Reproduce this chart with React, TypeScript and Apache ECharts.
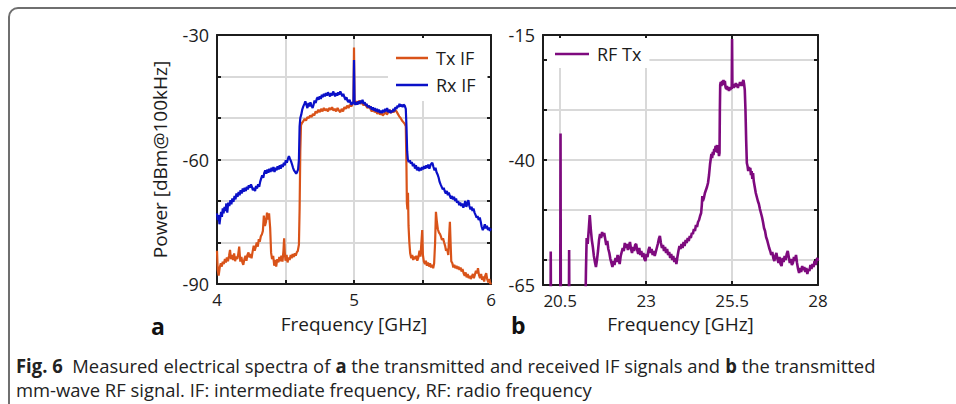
import React, { useEffect, useRef } from 'react';
import * as echarts from 'echarts';

// ---------- data (frequency in GHz, power in dBm@100kHz) ----------
const txIF: number[][] = [
  [4.000,-82.0],[4.005,-86.5],[4.012,-88.0],[4.020,-86.0],[4.028,-85.0],[4.035,-85.8],[4.042,-84.6],[4.050,-85.2],[4.058,-84.0],[4.065,-84.8],
  [4.072,-83.6],[4.080,-84.5],[4.088,-83.2],[4.095,-81.8],[4.102,-84.0],[4.110,-83.0],[4.118,-84.2],[4.125,-82.6],[4.132,-84.5],[4.140,-83.4],
  [4.148,-84.0],[4.155,-82.8],[4.162,-81.0],[4.170,-84.6],[4.178,-83.5],[4.185,-84.8],[4.192,-85.4],[4.200,-84.0],[4.208,-83.2],[4.215,-84.4],
  [4.222,-83.0],[4.230,-82.4],[4.238,-83.6],[4.245,-82.8],[4.252,-83.8],[4.260,-82.2],[4.268,-80.8],[4.275,-82.0],[4.282,-81.2],[4.290,-80.0],
  [4.298,-81.0],[4.305,-79.2],[4.312,-79.8],[4.320,-78.5],[4.328,-78.0],[4.335,-77.2],[4.342,-73.5],[4.350,-76.0],[4.358,-75.0],[4.365,-72.8],
  [4.372,-74.5],[4.380,-73.0],[4.388,-76.5],[4.395,-82.5],[4.402,-84.0],[4.410,-83.2],[4.418,-85.6],[4.425,-84.2],[4.432,-85.8],[4.440,-84.0],
  [4.448,-84.8],[4.455,-83.5],[4.462,-84.5],[4.470,-83.2],[4.478,-84.6],[4.485,-82.0],[4.490,-79.0],[4.495,-82.5],[4.500,-84.4],[4.508,-83.0],
  [4.515,-84.8],[4.522,-83.6],[4.530,-84.2],[4.538,-83.0],[4.545,-83.8],[4.552,-82.8],[4.560,-83.5],[4.568,-82.6],[4.575,-83.2],[4.582,-82.4],
  [4.590,-82.0],[4.598,-80.5],[4.603,-72.0],[4.608,-58.0],[4.613,-51.8],[4.620,-51.2],[4.630,-50.8],[4.640,-50.2],[4.650,-50.6],[4.660,-49.8],
  [4.670,-50.0],[4.680,-49.4],[4.690,-49.8],[4.700,-49.0],[4.710,-49.4],[4.720,-48.4],[4.730,-48.8],[4.740,-48.0],[4.750,-48.6],[4.760,-47.8],
  [4.770,-48.4],[4.780,-47.6],[4.790,-48.2],[4.800,-47.8],[4.810,-48.4],[4.820,-47.6],[4.830,-48.0],[4.840,-47.4],[4.850,-48.2],[4.860,-47.8],
  [4.870,-48.4],[4.880,-47.6],[4.890,-48.2],[4.900,-48.6],[4.910,-47.8],[4.920,-48.4],[4.930,-47.4],[4.940,-47.8],[4.950,-47.0],[4.960,-47.6],
  [4.970,-46.8],[4.980,-47.2],[4.990,-46.6],[4.996,-46.4],[5.000,-33.0],[5.004,-46.2],[5.010,-46.6],[5.020,-46.0],[5.030,-46.4],[5.040,-45.8],
  [5.050,-46.6],[5.060,-46.2],[5.070,-47.0],[5.080,-46.4],[5.090,-47.2],[5.100,-47.6],[5.110,-47.0],[5.120,-47.8],[5.130,-48.4],[5.140,-47.8],
  [5.150,-48.6],[5.160,-48.2],[5.170,-49.0],[5.180,-48.4],[5.190,-49.2],[5.200,-48.6],[5.210,-49.4],[5.220,-49.0],[5.230,-48.4],[5.240,-49.2],
  [5.250,-48.6],[5.260,-48.0],[5.270,-48.8],[5.280,-48.2],[5.290,-48.6],[5.300,-48.0],[5.310,-48.4],[5.320,-49.0],[5.330,-49.6],[5.340,-50.0],
  [5.350,-50.6],[5.360,-51.0],[5.370,-51.4],[5.378,-52.0],[5.383,-62.0],[5.386,-70.5],[5.390,-72.0],[5.394,-68.0],[5.398,-76.0],[5.404,-80.0],
  [5.410,-82.6],[5.418,-83.8],[5.425,-83.0],[5.432,-84.2],[5.440,-83.4],[5.448,-84.0],[5.455,-83.2],[5.462,-84.4],[5.470,-83.6],[5.478,-82.0],
  [5.485,-83.4],[5.492,-80.0],[5.498,-77.0],[5.503,-83.0],[5.510,-84.6],[5.518,-85.2],[5.525,-84.4],[5.532,-85.6],[5.540,-84.8],[5.548,-85.8],
  [5.555,-85.0],[5.562,-86.0],[5.570,-85.4],[5.578,-86.2],[5.585,-85.0],[5.592,-80.0],[5.598,-72.6],[5.605,-75.0],[5.612,-76.8],[5.620,-77.6],
  [5.628,-78.0],[5.635,-78.6],[5.642,-79.4],[5.650,-79.0],[5.658,-80.0],[5.665,-80.8],[5.672,-82.0],[5.680,-81.5],[5.688,-83.0],[5.695,-78.0],
  [5.700,-75.0],[5.705,-80.0],[5.710,-84.5],[5.718,-85.0],[5.725,-86.0],[5.732,-85.4],[5.740,-86.2],[5.748,-85.6],[5.755,-86.4],[5.762,-85.8],
  [5.770,-86.6],[5.778,-86.0],[5.785,-87.0],[5.792,-86.4],[5.800,-87.4],[5.808,-88.0],[5.815,-87.2],[5.822,-88.4],[5.830,-87.6],[5.838,-88.6],
  [5.845,-88.0],[5.852,-88.8],[5.860,-88.2],[5.868,-87.6],[5.875,-88.6],[5.882,-87.8],[5.890,-86.8],[5.898,-87.4],[5.905,-86.2],[5.912,-87.8],
  [5.920,-88.6],[5.928,-87.6],[5.935,-89.0],[5.942,-88.2],[5.950,-89.4],[5.958,-88.0],[5.965,-87.4],[5.972,-88.8],[5.980,-89.6],[5.988,-88.8],
  [5.995,-90.0],[6.000,-89.6],
];

const rxIF: number[][] = [
  [4.000,-73.0],[4.006,-74.6],[4.012,-73.4],[4.018,-75.6],[4.024,-74.0],[4.030,-72.6],[4.036,-73.8],[4.042,-71.8],[4.048,-73.0],[4.055,-71.4],
  [4.062,-72.4],[4.068,-70.6],[4.075,-72.8],[4.082,-70.4],[4.090,-71.2],[4.098,-69.8],[4.105,-70.8],[4.112,-69.4],[4.120,-70.2],[4.128,-68.8],
  [4.135,-69.6],[4.142,-68.2],[4.150,-69.0],[4.158,-67.8],[4.165,-68.6],[4.172,-67.4],[4.180,-68.2],[4.188,-67.0],[4.195,-67.8],[4.202,-66.8],
  [4.210,-67.6],[4.218,-66.6],[4.225,-67.2],[4.232,-66.2],[4.240,-66.8],[4.248,-66.0],[4.255,-66.6],[4.262,-67.4],[4.270,-66.8],[4.278,-67.6],
  [4.285,-66.4],[4.292,-67.0],[4.300,-66.0],[4.308,-66.6],[4.315,-65.4],[4.322,-64.6],[4.330,-63.8],[4.338,-64.4],[4.345,-63.2],[4.352,-62.6],
  [4.360,-63.4],[4.368,-62.4],[4.375,-63.2],[4.382,-62.2],[4.390,-63.0],[4.398,-62.0],[4.405,-62.8],[4.412,-61.8],[4.420,-63.0],[4.428,-62.0],
  [4.435,-62.6],[4.442,-61.6],[4.450,-62.4],[4.458,-61.4],[4.465,-62.2],[4.472,-61.2],[4.480,-61.8],[4.488,-60.8],[4.495,-61.4],[4.502,-60.2],
  [4.510,-60.8],[4.518,-59.8],[4.525,-59.2],[4.532,-59.8],[4.540,-60.4],[4.548,-61.2],[4.555,-62.0],[4.562,-62.6],[4.570,-63.0],[4.578,-63.4],
  [4.585,-63.0],[4.592,-62.4],[4.598,-60.0],[4.603,-52.0],[4.608,-50.0],[4.615,-49.2],[4.622,-48.0],[4.630,-47.2],[4.638,-46.6],[4.645,-46.0],
  [4.652,-46.8],[4.660,-47.6],[4.668,-46.4],[4.675,-47.2],[4.682,-46.2],[4.690,-47.0],[4.698,-47.6],[4.705,-46.8],[4.712,-45.8],[4.720,-46.4],
  [4.728,-45.4],[4.735,-45.0],[4.742,-45.6],[4.750,-44.8],[4.758,-45.4],[4.765,-44.4],[4.772,-45.0],[4.780,-44.2],[4.788,-44.8],[4.795,-44.0],
  [4.802,-44.6],[4.810,-43.8],[4.818,-44.4],[4.825,-44.8],[4.832,-44.0],[4.840,-44.6],[4.848,-43.6],[4.855,-44.2],[4.862,-44.8],[4.870,-44.0],
  [4.878,-44.6],[4.885,-43.8],[4.892,-44.4],[4.900,-43.6],[4.908,-44.2],[4.915,-44.8],[4.922,-44.2],[4.930,-45.0],[4.938,-45.6],[4.945,-45.0],
  [4.952,-45.8],[4.960,-46.2],[4.968,-45.6],[4.975,-46.4],[4.982,-46.8],[4.990,-46.2],[4.996,-46.6],[5.000,-36.0],[5.004,-46.4],[5.010,-46.8],
  [5.018,-46.2],[5.025,-46.8],[5.032,-46.0],[5.040,-46.6],[5.048,-45.8],[5.055,-46.4],[5.062,-45.6],[5.070,-46.6],[5.078,-46.2],[5.085,-47.0],
  [5.092,-46.6],[5.100,-47.4],[5.108,-47.0],[5.115,-47.6],[5.122,-47.2],[5.130,-48.0],[5.138,-47.4],[5.145,-48.2],[5.152,-47.6],[5.160,-48.4],
  [5.168,-47.8],[5.175,-48.6],[5.182,-48.0],[5.190,-48.8],[5.198,-48.2],[5.205,-48.8],[5.212,-48.0],[5.220,-48.6],[5.228,-47.8],[5.235,-48.4],
  [5.242,-47.6],[5.250,-48.6],[5.258,-48.0],[5.265,-48.8],[5.272,-48.2],[5.280,-48.6],[5.288,-47.8],[5.295,-48.4],[5.302,-47.4],[5.310,-47.8],
  [5.318,-47.0],[5.325,-47.4],[5.332,-46.6],[5.340,-47.2],[5.348,-46.8],[5.355,-47.4],[5.362,-46.8],[5.370,-47.0],[5.378,-47.8],[5.383,-52.0],
  [5.388,-58.0],[5.393,-60.0],[5.400,-60.6],[5.408,-60.2],[5.415,-61.0],[5.422,-60.6],[5.430,-61.6],[5.438,-61.0],[5.445,-62.2],[5.452,-61.4],
  [5.460,-62.6],[5.468,-61.8],[5.475,-62.8],[5.482,-62.0],[5.490,-62.6],[5.498,-61.8],[5.505,-62.4],[5.512,-61.6],[5.520,-62.2],[5.528,-61.4],
  [5.535,-62.0],[5.542,-61.2],[5.550,-62.2],[5.558,-61.4],[5.565,-61.0],[5.572,-60.8],[5.580,-61.8],[5.588,-62.6],[5.595,-62.0],[5.602,-63.0],
  [5.610,-63.6],[5.618,-64.4],[5.625,-65.4],[5.632,-66.0],[5.640,-66.6],[5.648,-67.2],[5.655,-66.8],[5.662,-67.6],[5.670,-68.2],[5.678,-67.6],
  [5.685,-68.6],[5.692,-68.0],[5.700,-68.8],[5.708,-69.4],[5.715,-68.8],[5.722,-69.6],[5.730,-69.0],[5.738,-70.0],[5.745,-69.4],[5.752,-70.4],
  [5.760,-70.0],[5.768,-71.0],[5.775,-70.4],[5.782,-71.2],[5.790,-70.6],[5.798,-71.6],[5.805,-71.0],[5.812,-70.0],[5.820,-71.4],[5.828,-70.6],
  [5.835,-69.8],[5.842,-71.2],[5.850,-72.0],[5.858,-71.4],[5.865,-72.4],[5.872,-71.8],[5.880,-72.8],[5.888,-73.4],[5.895,-74.0],[5.902,-73.6],
  [5.910,-74.6],[5.918,-74.0],[5.925,-75.0],[5.932,-76.2],[5.940,-77.0],[5.948,-76.4],[5.955,-75.6],[5.962,-76.6],[5.970,-76.0],[5.978,-77.0],
  [5.985,-76.4],[5.992,-77.2],[6.000,-76.6],
];

const rfTx: number[][] = [
  [20.00,-75],[20.22,-75],[20.225,-58.3],[20.235,-75],[20.50,-75],[20.51,-34.7],[20.52,-75],[20.75,-75],[20.76,-58.0],[20.77,-75],
  [21.22,-75],[21.25,-62],[21.27,-55.6],[21.30,-56.8],[21.33,-54.0],[21.36,-51.0],[21.39,-53.8],[21.42,-56.0],[21.45,-57.4],[21.48,-59.2],
  [21.51,-60.4],[21.54,-61.4],[21.57,-60.0],[21.60,-58.2],[21.63,-56.0],[21.66,-54.8],[21.69,-55.6],[21.72,-54.4],[21.75,-55.2],[21.78,-54.6],
  [21.81,-55.8],[21.84,-57.0],[21.87,-56.2],[21.90,-57.8],[21.93,-58.6],[21.96,-59.8],[21.99,-60.6],[22.02,-61.4],[22.05,-60.2],[22.08,-61.0],
  [22.11,-59.6],[22.14,-60.4],[22.17,-59.0],[22.20,-59.8],[22.23,-60.8],[22.26,-59.2],[22.29,-58.4],[22.32,-57.6],[22.35,-58.2],[22.38,-56.6],
  [22.41,-57.6],[22.44,-56.8],[22.47,-58.0],[22.50,-57.2],[22.53,-56.4],[22.56,-57.8],[22.59,-58.6],[22.62,-57.4],[22.65,-58.2],[22.68,-57.0],
  [22.71,-56.8],[22.74,-58.0],[22.77,-58.8],[22.80,-57.6],[22.83,-59.0],[22.86,-58.2],[22.89,-59.4],[22.92,-58.6],[22.95,-59.8],[22.98,-60.2],
  [23.01,-58.8],[23.04,-59.4],[23.07,-58.0],[23.10,-57.4],[23.13,-58.6],[23.16,-57.8],[23.19,-59.0],[23.22,-58.2],[23.25,-59.2],[23.28,-58.4],
  [23.31,-57.6],[23.34,-56.8],[23.37,-55.8],[23.40,-55.2],[23.43,-56.6],[23.46,-57.6],[23.49,-57.0],[23.52,-58.2],[23.55,-57.4],[23.58,-58.6],
  [23.61,-57.8],[23.64,-59.0],[23.67,-58.4],[23.70,-59.6],[23.73,-58.8],[23.76,-60.0],[23.79,-59.2],[23.82,-60.4],[23.85,-59.6],[23.88,-60.8],
  [23.91,-59.4],[23.94,-58.2],[23.97,-57.2],[24.00,-57.8],[24.03,-56.8],[24.06,-57.6],[24.09,-56.4],[24.12,-57.2],[24.15,-56.0],[24.18,-56.6],
  [24.21,-55.6],[24.24,-56.2],[24.27,-55.2],[24.30,-55.6],[24.33,-54.6],[24.36,-54.8],[24.39,-53.8],[24.42,-54.2],[24.45,-53.0],[24.48,-53.4],
  [24.51,-52.4],[24.54,-52.0],[24.57,-51.2],[24.60,-50.6],[24.62,-49.0],[24.635,-47.2],[24.65,-48.2],[24.68,-47.6],[24.71,-46.6],[24.74,-46.0],
  [24.77,-45.4],[24.80,-44.6],[24.83,-43.0],[24.86,-40.8],[24.88,-39.8],[24.90,-38.8],[24.92,-39.6],[24.94,-38.4],[24.96,-39.0],[24.98,-37.8],
  [25.00,-38.4],[25.02,-37.2],[25.04,-38.0],[25.06,-37.0],[25.08,-38.6],[25.10,-38.0],[25.12,-39.2],[25.135,-38.6],[25.145,-30.0],[25.155,-25.0],
  [25.17,-24.4],[25.19,-25.2],[25.21,-24.2],[25.23,-25.0],[25.25,-24.0],[25.27,-24.8],[25.29,-24.2],[25.31,-25.4],[25.33,-25.8],[25.35,-25.2],
  [25.37,-26.0],[25.39,-25.4],[25.41,-26.2],[25.43,-25.6],[25.45,-26.0],[25.47,-25.4],[25.49,-25.8],[25.50,-15.8],[25.51,-25.6],[25.53,-25.0],
  [25.55,-25.6],[25.57,-24.8],[25.59,-25.4],[25.61,-24.6],[25.63,-25.2],[25.65,-24.8],[25.67,-25.6],[25.69,-24.8],[25.71,-25.2],[25.73,-24.4],
  [25.75,-25.0],[25.77,-24.6],[25.79,-25.2],[25.81,-24.4],[25.83,-24.0],[25.85,-24.8],[25.87,-26.0],[25.89,-30.0],[25.91,-36.0],[25.93,-40.6],
  [25.95,-41.2],[25.97,-42.2],[25.99,-41.4],[26.01,-42.0],[26.03,-41.6],[26.05,-43.0],[26.07,-42.2],[26.09,-43.8],[26.11,-42.6],[26.13,-44.2],
  [26.16,-45.4],[26.19,-46.6],[26.22,-47.4],[26.25,-48.2],[26.28,-48.8],[26.31,-49.8],[26.34,-50.6],[26.37,-51.4],[26.40,-52.4],[26.43,-53.6],
  [26.46,-54.2],[26.49,-55.4],[26.52,-56.0],[26.55,-56.8],[26.58,-57.6],[26.61,-58.2],[26.64,-59.0],[26.67,-58.4],[26.70,-59.6],[26.73,-60.2],
  [26.76,-59.2],[26.79,-58.6],[26.82,-59.8],[26.85,-60.6],[26.88,-59.4],[26.91,-60.8],[26.94,-61.2],[26.97,-59.6],[27.00,-60.4],[27.03,-59.2],
  [27.06,-60.0],[27.09,-58.8],[27.12,-58.2],[27.15,-59.4],[27.18,-60.6],[27.21,-59.8],[27.24,-61.0],[27.27,-60.6],[27.30,-59.4],[27.33,-60.2],
  [27.36,-59.0],[27.39,-60.6],[27.42,-61.8],[27.45,-62.6],[27.48,-61.6],[27.51,-62.4],[27.54,-61.2],[27.57,-62.0],[27.60,-61.4],[27.63,-62.4],
  [27.66,-61.6],[27.69,-62.8],[27.72,-61.8],[27.75,-62.2],[27.78,-61.0],[27.81,-61.8],[27.84,-60.8],[27.87,-61.4],[27.90,-60.2],[27.93,-61.0],
  [27.96,-60.0],[27.98,-59.6],[28.00,-60.2],
];

// ---------- axis ticks and labels ----------
const xRangeA = [4, 6];
const xTicksA = [4, 4.5, 5, 5.5, 6];
const xLabelsA = [4, 5, 6];
const yRangeA = [-90, -30];
const yTicksA = [-90, -80, -70, -60, -50, -40, -30];
const yLabelsA = [-90, -60, -30];

const xRangeB = [20, 28];
const xTicksB = [20.5, 23, 25.5, 28];
const xLabelsB = [20.5, 23, 25.5, 28];
const yRangeB = [-65, -15];
const yTicksB = [-60, -50, -40, -30, -20];
const yLabelsB = [-65, -40, -15];

const seriesNames = ['Tx IF', 'Rx IF', 'RF Tx'];
const seriesColors = ['#D95319', '#0A10C8', '#7E0A7E'];

const captionLine1 = '{b|Fig. 6}  Measured electrical spectra of {b|a} the transmitted and received IF signals and {b|b} the transmitted';
const captionLine2 = 'mm-wave RF signal. IF: intermediate frequency, RF: radio frequency';

const FONT = "'Open Sans', sans-serif";
const INK = '#1c1c1c';
const GRID = '#d9d9d9';

function makeAxis(dim: 'x' | 'y', gridIndex: number, range: number[], ticks: number[], labels: number[] | null, position: string, name?: string, nameGap?: number) {
  const isMain = labels !== null;
  return {
    type: 'value',
    gridIndex,
    min: range[0],
    max: range[1],
    position,
    axisLine: { show: true, onZero: false, lineStyle: { color: INK, width: 2 } },
    axisTick: { show: true, inside: true, length: 4, customValues: ticks, lineStyle: { color: INK, width: 2 } },
    axisLabel: isMain
      ? { show: true, customValues: labels, fontSize: dim === 'x' ? 17 : 18, color: INK, fontFamily: FONT, margin: dim === 'x' ? 7 : 8 }
      : { show: false },
    splitLine: isMain ? { show: true, lineStyle: { color: GRID, width: 2 } } : { show: false },
    name: name || '',
    nameLocation: 'middle',
    nameGap: nameGap || 0,
    nameTextStyle: { fontSize: 19, color: INK, fontFamily: FONT },
  };
}

export default function App() {
  const ref = useRef<HTMLDivElement>(null);
  useEffect(() => {
    if (!ref.current) return;
    const chart = echarts.init(ref.current, null, { renderer: 'svg' });
    const option: any = {
      animation: false,
      backgroundColor: '#ffffff',
      grid: [
        { left: 217, top: 35, width: 274, height: 249 },
        { left: 543, top: 35, width: 275, height: 250 },
      ],
      xAxis: [
        makeAxis('x', 0, xRangeA, xTicksA, xLabelsA, 'bottom', 'Frequency [GHz]', 30),
        makeAxis('x', 0, xRangeA, xTicksA, null, 'top'),
        makeAxis('x', 1, xRangeB, xTicksB, xLabelsB, 'bottom', 'Frequency [GHz]', 29),
        makeAxis('x', 1, xRangeB, xTicksB, null, 'top'),
      ],
      yAxis: [
        makeAxis('y', 0, yRangeA, yTicksA, yLabelsA, 'left', 'Power [dBm@100kHz]', 48),
        makeAxis('y', 0, yRangeA, yTicksA, null, 'right'),
        makeAxis('y', 1, yRangeB, yTicksB, yLabelsB, 'left'),
        makeAxis('y', 1, yRangeB, yTicksB, null, 'right'),
      ],
      legend: [
        {
          data: [seriesNames[0], seriesNames[1]],
          orient: 'vertical',
          left: 388,
          top: 38,
          padding: [11, 12, 7, 8],
          itemGap: 9,
          icon: 'rect',
          itemWidth: 32,
          itemHeight: 2.5,
          backgroundColor: '#ffffff',
          textStyle: { fontSize: 18, color: INK, fontFamily: FONT, padding: [0, 0, 0, 3] },
        },
        {
          data: [seriesNames[2]],
          orient: 'vertical',
          left: 547,
          top: 38,
          padding: [7, 8, 5, 8],
          icon: 'rect',
          itemWidth: 34,
          itemHeight: 2.5,
          backgroundColor: '#ffffff',
          textStyle: { fontSize: 18, color: INK, fontFamily: FONT, padding: [0, 0, 0, 3] },
        },
      ],
      series: [
        { name: seriesNames[0], type: 'line', xAxisIndex: 0, yAxisIndex: 0, data: txIF, symbol: 'none', showSymbol: false, lineStyle: { color: seriesColors[0], width: 2.2 }, itemStyle: { color: seriesColors[0] }, z: 3 },
        { name: seriesNames[1], type: 'line', xAxisIndex: 0, yAxisIndex: 0, data: rxIF, symbol: 'none', showSymbol: false, lineStyle: { color: seriesColors[1], width: 2.2 }, itemStyle: { color: seriesColors[1] }, z: 4 },
        { name: seriesNames[2], type: 'line', xAxisIndex: 2, yAxisIndex: 2, data: rfTx, symbol: 'none', showSymbol: false, lineStyle: { color: seriesColors[2], width: 2.6 }, itemStyle: { color: seriesColors[2] }, z: 3 },
      ],
      graphic: [
        { type: 'rect', shape: { x: 9, y: 8, width: 1000, height: 500, r: 9 }, style: { fill: 'none', stroke: '#6f6f6f', lineWidth: 2 }, silent: true },
        { type: 'text', x: 151, y: 314, style: { text: 'a', fontSize: 23, fontWeight: 'bold', fontFamily: FONT, fill: '#111' } },
        { type: 'text', x: 511, y: 313, style: { text: 'b', fontSize: 23, fontWeight: 'bold', fontFamily: FONT, fill: '#111' } },
        {
          type: 'text', x: 16, y: 365, scaleX: 0.97,
          style: {
            text: captionLine1, fontSize: 19, fontFamily: FONT, fill: '#222', verticalAlign: 'middle',
            rich: { b: { fontSize: 19, fontWeight: 'bold', fontFamily: FONT, fill: '#222' } },
          },
        },
        { type: 'text', x: 16, y: 389, scaleX: 0.97, style: { text: captionLine2, fontSize: 19, fontFamily: FONT, fill: '#222', verticalAlign: 'middle' } },
      ],
    };
    chart.setOption(option);
    return () => chart.dispose();
  }, []);
  return <div ref={ref} style={{ position: 'fixed', left: 0, top: 0, width: 956, height: 404, background: '#fff' }} />;
}
